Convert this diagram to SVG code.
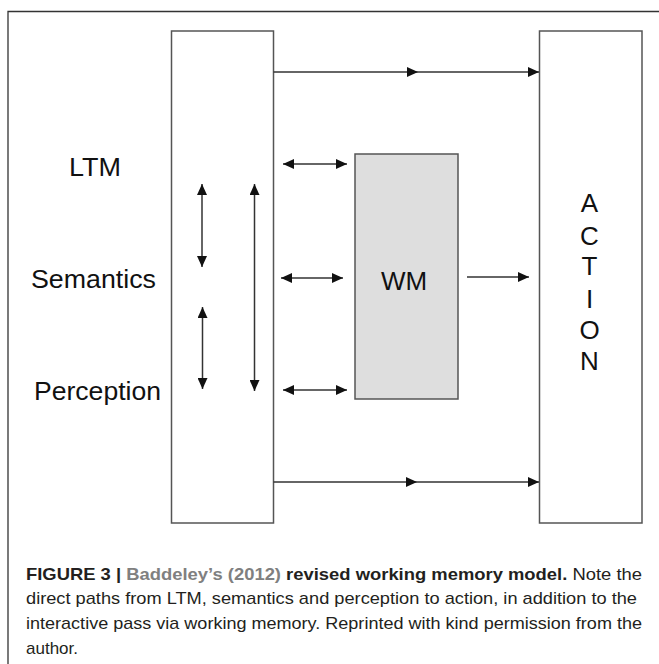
<svg xmlns="http://www.w3.org/2000/svg" width="659" height="664" viewBox="0 0 659 664">
<defs>
<marker id="ah" markerUnits="userSpaceOnUse" markerWidth="11" markerHeight="10" refX="11" refY="5" orient="auto-start-reverse" viewBox="0 0 11 10">
<path d="M0,0 L11,5 L0,10 z" fill="#111"/>
</marker>
</defs>
<style>
.box{fill:#fff;stroke:#555;stroke-width:1.5}
.wm{fill:#dedede;stroke:#555;stroke-width:1.5}
.lbl{font-family:"Liberation Sans",Arial,sans-serif;font-size:26px;fill:#111}
.ln{fill:none;stroke:#333;stroke-width:1.5}
.cap{font-family:"Liberation Sans",Arial,sans-serif;font-size:17px;fill:#231f20}
.b{font-weight:bold}
.g{fill:#808080}
</style>
<rect width="659" height="664" fill="#fff"/>
<path d="M8,664 V11.5 H659" fill="none" stroke="#333" stroke-width="1.3"/>

<g id="ltm-box"><rect class="box" x="171.5" y="31" width="102" height="492"/></g>
<g id="action"><rect class="box" x="539.5" y="31" width="102.5" height="492"/>
<g class="lbl" text-anchor="middle">
<text x="589.5" y="212">A</text>
<text x="589.5" y="245">C</text>
<text x="589.5" y="275">T</text>
<text x="589.5" y="308">I</text>
<text x="589.5" y="339">O</text>
<text x="589.5" y="370">N</text>
</g></g>
<g id="wm"><rect class="wm" x="355" y="154" width="103" height="245"/>
<text class="lbl" x="404" y="290" text-anchor="middle">WM</text></g>
<g id="labels">
<text class="lbl" x="69" y="176" textLength="52" lengthAdjust="spacingAndGlyphs">LTM</text>
<text class="lbl" x="31" y="288" textLength="125" lengthAdjust="spacingAndGlyphs">Semantics</text>
<text class="lbl" x="34" y="400" textLength="127" lengthAdjust="spacingAndGlyphs">Perception</text>
</g>

<g id="connectors" class="ln">
<path d="M273.5,72 H418 H539" marker-mid="url(#ah)" marker-end="url(#ah)"/>
<path d="M273.5,482 H417 H539" marker-mid="url(#ah)" marker-end="url(#ah)"/>
<path d="M283,164 H347" marker-start="url(#ah)" marker-end="url(#ah)"/>
<path d="M281,278 H343" marker-start="url(#ah)" marker-end="url(#ah)"/>
<path d="M283,390 H347" marker-start="url(#ah)" marker-end="url(#ah)"/>
<path d="M467,277 H529" marker-end="url(#ah)"/>
<path d="M202,184 V267" marker-start="url(#ah)" marker-end="url(#ah)"/>
<path d="M202.5,307 V389" marker-start="url(#ah)" marker-end="url(#ah)"/>
<path d="M254.5,184 V391" marker-start="url(#ah)" marker-end="url(#ah)"/>
</g>

<g id="caption" class="cap">
<text x="26" y="580" textLength="616" lengthAdjust="spacingAndGlyphs"><tspan class="b">FIGURE 3 | </tspan><tspan class="b g">Baddeley’s (2012)</tspan><tspan class="b"> revised working memory model.</tspan> Note the</text>
<text x="26" y="604" textLength="611" lengthAdjust="spacingAndGlyphs">direct paths from LTM, semantics and perception to action, in addition to the</text>
<text x="26" y="629" textLength="616" lengthAdjust="spacingAndGlyphs">interactive pass via working memory. Reprinted with kind permission from the</text>
<text x="26" y="654">author.</text>
</g>
</svg>
